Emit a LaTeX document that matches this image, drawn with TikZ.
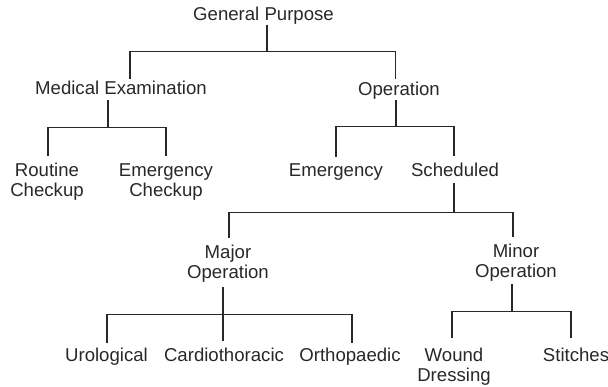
\documentclass[tikz,border=0pt]{standalone}
\usepackage{fontspec}
\setmainfont{Liberation Sans}
\begin{document}
\definecolor{ink}{RGB}{40,40,40}
\begin{tikzpicture}[x=1pt,y=-1pt,
  label/.style={inner sep=0pt,outer sep=0pt,text=ink,align=center,
    font=\fontsize{18.6}{20}\selectfont},
  link/.style={draw=ink,line width=1.2pt}]
\useasboundingbox (0,0) rectangle (608,387);

% level 0
\node[label,anchor=base] (gp) at (263.5,21) {General Purpose};
% level 1
\node[label,anchor=base] (me) at (121,95) {Medical Examination};
\node[label,anchor=base] (op) at (399,96) {Operation};
% level 2
\node[label,anchor=north] (rc) at (47,163.5) {Routine\\Checkup};
\node[label,anchor=north] (ec) at (166,163.5) {Emergency\\Checkup};
\node[label,anchor=base] (em) at (336,177) {Emergency};
\node[label,anchor=base] (sc) at (455,177) {Scheduled};
% level 3
\node[label,anchor=north] (mj) at (228,245.5) {Major\\Operation};
\node[label,anchor=north] (mn) at (516,244.5) {Minor\\Operation};
% level 4
\node[label,anchor=base] (ur) at (106.5,362) {Urological};
\node[label,anchor=base] (ca) at (224,362) {Cardiothoracic};
\node[label,anchor=base] (or) at (350,362) {Orthopaedic};
\node[label,anchor=north] (wd) at (454,348.5) {Wound\\Dressing};
\node[label,anchor=base] (st) at (576,362) {Stitches};

% General Purpose
\draw[link] ([xshift=3.5pt]gp.south) -- ++(0,27) -| ([xshift=9pt,yshift=2.5pt]me.north);
\draw[link] ([xshift=3.5pt]gp.south) ++(0,27) -| ([xshift=-3.5pt,yshift=3.5pt]op.north);
% Medical Examination
\draw[link] ([xshift=-13pt,yshift=-5pt]me.south) -- ++(0,27) -| ([xshift=1pt,yshift=7.5pt]rc.north);
\draw[link] ([xshift=-13pt,yshift=-5pt]me.south) ++(0,27) -| ([yshift=7.5pt]ec.north);
% Operation
\draw[link] ([xshift=-3pt]op.south) -- ++(0,27) -| ([yshift=7.5pt]em.north);
\draw[link] ([xshift=-3pt]op.south) ++(0,27) -| ([xshift=-1pt,yshift=7.5pt]sc.north);
% Scheduled
\draw[link] ([xshift=-1pt,yshift=-6pt]sc.south) -- ++(0,29) -| ([xshift=1pt,yshift=7.5pt]mj.north);
\draw[link] ([xshift=-1pt,yshift=-6pt]sc.south) ++(0,29) -| ([xshift=-3pt,yshift=7.5pt]mn.north);
% Major Operation
\draw[link] ([xshift=-5pt,yshift=-4pt]mj.south) -- ++(0,28) -| ([xshift=0.5pt,yshift=5.5pt]ur.north);
\draw[link] ([xshift=-5pt,yshift=-4pt]mj.south) -- ([xshift=-1pt,yshift=7.5pt]ca.north);
\draw[link] ([xshift=-5pt,yshift=-4pt]mj.south) ++(0,28) -| ([xshift=2pt,yshift=5.5pt]or.north);
% Minor Operation
\draw[link] ([xshift=-4pt,yshift=-2pt]mn.south) -- ++(0,28) -| ([xshift=-2pt,yshift=10.5pt]wd.north);
\draw[link] ([xshift=-4pt,yshift=-2pt]mn.south) ++(0,28) -| ([xshift=-5pt,yshift=10.5pt]st.north);
\end{tikzpicture}
\end{document}
